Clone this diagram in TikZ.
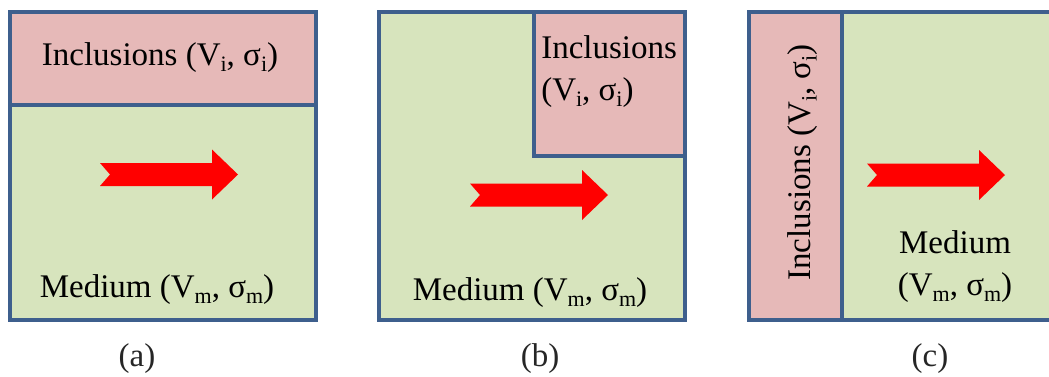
\documentclass[tikz,border=0pt]{standalone}
\usepackage{fontspec}
\setmainfont{Liberation Serif}
\usepackage{tikz}
\usetikzlibrary{positioning,calc}
\definecolor{phBorder}{HTML}{3E5F8D}
\definecolor{phMedium}{HTML}{D7E4BD}
\definecolor{phIncl}{HTML}{E6B9B8}
\definecolor{phFlow}{HTML}{FF0000}
\newcommand{\phsub}[1]{\raisebox{-0.2em}{\fontsize{16.5}{16}\selectfont #1}}
\tikzset{
    phBox/.style={draw=phBorder, line width=3pt},
    % Regions
    medium/.style={phBox, fill=phMedium},
    incl/.style={phBox, fill=phIncl},
    % Texts
    phText/.style={font=\rmfamily\fontsize{24.75}{31}\selectfont, inner sep=0pt, anchor=base},
    phCaption/.style={phText, text=black!85},
    % Flow arrow
    flowarrow/.pic={
        \fill[phFlow] (0,-11.5) -- (112,-11.5) -- (112,-25) -- (138,0)
            -- (112,25) -- (112,11.5) -- (0,11.5) -- (10,0) -- cycle;
    }
}
\begin{document}
\begin{tikzpicture}[x=0.75pt, y=-0.75pt]
    \useasboundingbox (0,0) rectangle (1049,376);

    % (a) Layer on top
    \draw[medium] (10,12) rectangle (316,320);
    \draw[incl] (10,12) rectangle (316,105);
    \pic at (100,174.5) {flowarrow};
    \node[phText] (inclA) at (160,65) {Inclusions (V\phsub{i}, σ\phsub{i})};
    \node[phText] (medA) at (157,297) {Medium (V\phsub{m}, σ\phsub{m})};

    % (b) Corner block
    \draw[medium] (379,12) rectangle (685,320);
    \draw[incl] (534,12) rectangle (685,156);
    \pic at (470,195) {flowarrow};
    \node[phText, anchor=base west, align=left] (inclB) at (541,100) {Inclusions\\(V\phsub{i}, σ\phsub{i})};
    \node[phText] (medB) at (530,300) {Medium (V\phsub{m}, σ\phsub{m})};

    % (c) Side strip
    \draw[medium] (749,12) rectangle (1053,320);
    \draw[incl] (749,12) rectangle (842,320);
    \pic at (867,175) {flowarrow};
    \node[phText, rotate=90] (inclC) at (810,162.5) {Inclusions (V\phsub{i}, σ\phsub{i})};
    \node[phText, align=center, anchor=base] (medC) at (955,295) {Medium\\(V\phsub{m}, σ\phsub{m})};

    % Captions
    \node[phCaption] (capA) at (137,366) {(a)};
    \node[phCaption] (capB) at (540,366) {(b)};
    \node[phCaption] (capC) at (930,366) {(c)};
\end{tikzpicture}
\end{document}
